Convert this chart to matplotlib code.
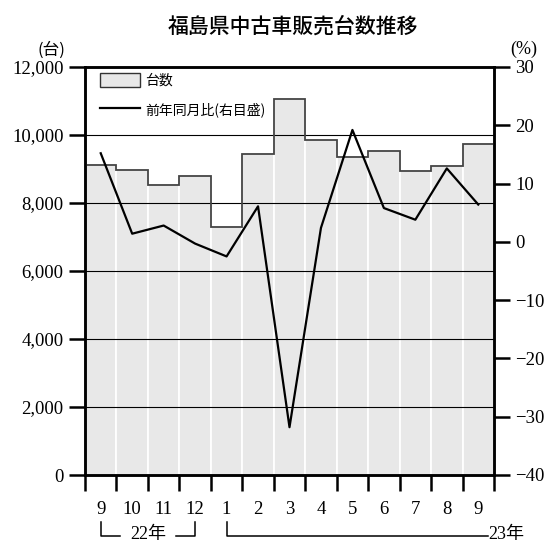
import matplotlib
matplotlib.use('Agg')
import matplotlib.pyplot as plt
import matplotlib.transforms as mtransforms
from matplotlib.patches import Patch
from matplotlib.lines import Line2D
import numpy as np

# ---- data ----
months = ['9', '10', '11', '12', '1', '2', '3', '4', '5', '6', '7', '8', '9']
units = [9120, 8970, 8540, 8780, 7300, 9440, 11050, 9850, 9350, 9520, 8950, 9100, 9730]
yoy = [15.2, 1.4, 2.8, -0.3, -2.5, 6.1, -31.8, 2.4, 19.2, 5.8, 3.8, 12.6, 6.4]
left_ticks = [0, 2000, 4000, 6000, 8000, 10000, 12000]
right_ticks = [-40, -30, -20, -10, 0, 10, 20, 30]
grid_values = [2000, 4000, 6000, 8000, 10000]
title = '福島県中古車販売台数推移'
legend_labels = ['台数', '前年同月比(右目盛)']
year_labels = ['22年', '23年']

CJK = ['Noto Sans CJK JP', 'DejaVu Sans']
SERIF = ['Liberation Serif', 'Noto Sans CJK JP', 'DejaVu Serif']

W, H = 552, 543
fig = plt.figure(figsize=(W / 100, H / 100), dpi=100)
ax = fig.add_axes([85 / W, 68 / H, 409 / W, 408 / H])

x = np.arange(len(units))
ax.bar(x, units, width=1.0, color='#e8e8e8', edgecolor='white', linewidth=1.3, zorder=1)
for v in grid_values:
    ax.axhline(v, color='black', lw=0.8, zorder=2)
edges = np.arange(len(units) + 1) - 0.5
ax.stairs(units, edges, baseline=None, color='#444444', linewidth=1.3, zorder=3)

ax.set_xlim(-0.5, len(units) - 0.5)
ax.set_ylim(left_ticks[0], left_ticks[-1])

ax.set_yticks(left_ticks)
ax.set_yticklabels([f'{v:,}' for v in left_ticks], fontfamily=SERIF, fontsize=13.5)
ax.tick_params(axis='y', direction='out', length=11.5, width=1.8, pad=4)

ax.set_xticks(edges)
ax.set_xticklabels([])
ax.tick_params(axis='x', which='major', direction='out', length=11.5, width=1.8)
ax.set_xticks(x, minor=True)
ax.set_xticklabels(months, minor=True, fontfamily=SERIF, fontsize=13.5)
ax.tick_params(axis='x', which='minor', length=0, pad=19)

ax2 = ax.twinx()
ax2.plot(x, yoy, color='black', lw=1.6, zorder=4)
ax2.set_ylim(right_ticks[0], right_ticks[-1])
ax2.set_yticks(right_ticks)
ax2.set_yticklabels([str(v).replace('-', '\u2212') for v in right_ticks], fontfamily=SERIF, fontsize=13.5)
ax2.tick_params(axis='y', direction='out', length=11.5, width=1.8, pad=4)

for a in (ax, ax2):
    for s in a.spines.values():
        s.set_linewidth(1.8)
        s.set_color('black')

handles = [Patch(facecolor='#e8e8e8', edgecolor='#333333', linewidth=1.0),
           Line2D([0], [0], color='black', lw=1.6)]
ax2.legend(handles, legend_labels, loc='upper left',
           bbox_to_anchor=(15 / 409, 1 - 6 / 408), borderpad=0, borderaxespad=0,
           handlelength=2.9, handleheight=1.15, handletextpad=0.37, labelspacing=1.05,
           frameon=False, prop={'family': CJK, 'size': 10})

fig.text(293 / W, 1 - 27 / H, title, ha='center', va='center', fontsize=15,
         fontfamily=CJK, fontweight='medium')
fig.text(51 / W, 1 - 50 / H, '(台)', ha='center', va='center', fontsize=12, fontfamily=CJK)
fig.text(524 / W, 1 - 49 / H, '(%)', ha='center', va='center', fontsize=13, fontfamily=SERIF)

# year brackets
tr = mtransforms.blended_transform_factory(ax.transData, fig.transFigure)
ytop = 1 - 522 / H
ybot = 1 - 536 / H
ytxt = 1 - 535 / H
kw = dict(color='black', lw=1.1, transform=tr, clip_on=False)
ax.plot([0, 0, 0.62], [ytop, ybot, ybot], **kw)
ax.plot([2.38, 3, 3], [ybot, ybot, ytop], **kw)
ax.text(1.5, ytxt, year_labels[0], transform=tr, ha='center', va='center',
        fontsize=13, fontfamily=SERIF)
ax.plot([4, 4, 12.31], [ytop, ybot, ybot], **kw)
ax.text(12.33, ytxt, year_labels[1], transform=tr, ha='left', va='center',
        fontsize=13, fontfamily=SERIF)

fig.savefig('out.png', dpi=100)
